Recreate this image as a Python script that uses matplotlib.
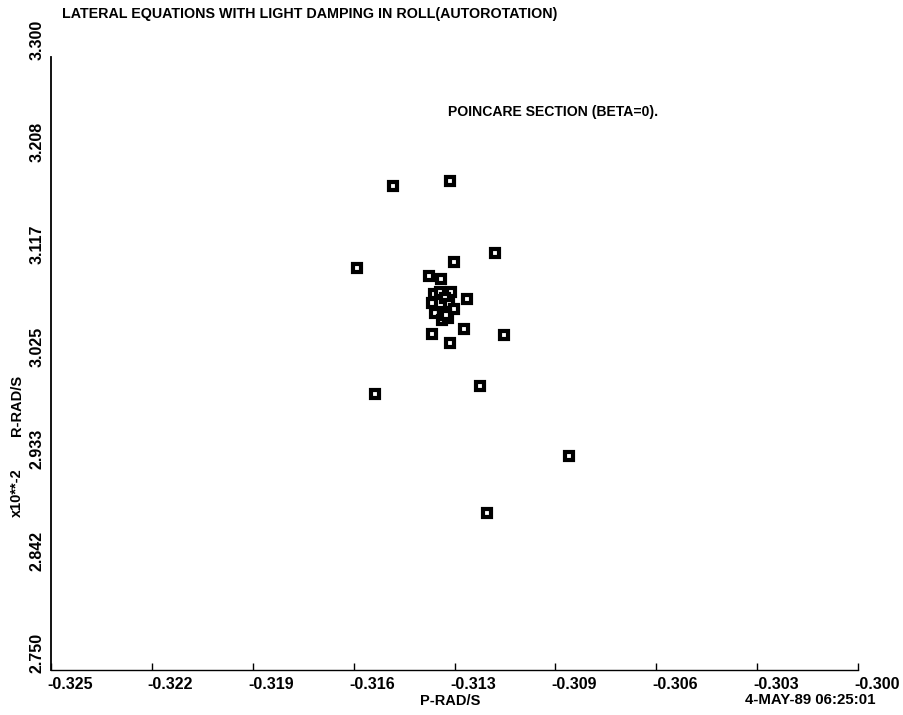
import matplotlib
matplotlib.use("Agg")
import matplotlib.pyplot as plt
from matplotlib.transforms import ScaledTranslation

# Poincare section points: roll rate P (rad/s) vs yaw rate R (x10**-2 rad/s)
p_vals = [-0.31441, -0.31264, -0.31552, -0.31125, -0.31252, -0.31329, -0.31292,
          -0.31314, -0.31295, -0.31261, -0.31279, -0.31211, -0.31320, -0.31267,
          -0.31252, -0.31310, -0.31286, -0.31289, -0.31270, -0.31276, -0.31320,
          -0.31221, -0.31097, -0.31264, -0.31496, -0.31171, -0.30895, -0.31149]
r_vals = [3.1843, 3.1887, 3.1107, 3.1241, 3.1161, 3.1035, 3.1008,
          3.0874, 3.0892, 3.0892, 3.0838, 3.0829, 3.0793, 3.0784,
          3.0739, 3.0703, 3.0712, 3.0640, 3.0658, 3.0685, 3.0515,
          3.0560, 3.0506, 3.0434, 2.9976, 3.0048, 2.9420, 2.8909]

x_ticks = [-0.325, -0.321875, -0.31875, -0.315625, -0.3125, -0.309375, -0.30625, -0.303125, -0.300]
x_tick_labels = ["-0.325", "-0.322", "-0.319", "-0.316", "-0.313", "-0.309", "-0.306", "-0.303", "-0.300"]
y_ticks = [2.75, 2.841667, 2.933333, 3.025, 3.116667, 3.208333, 3.30]
y_tick_labels = ["2.750", "2.842", "2.933", "3.025", "3.117", "3.208", "3.300"]

FONT = ["Liberation Sans", "DejaVu Sans"]
plt.rcParams["font.family"] = FONT
plt.rcParams["font.weight"] = "bold"

W, H = 904, 715
fig = plt.figure(figsize=(W / 100, H / 100), dpi=100)
ax = fig.add_axes([51 / W, (H - 670) / H, 807 / W, 613 / H])

ax.plot(p_vals, r_vals, linestyle="none", marker="s", markersize=6.0,
        markerfacecolor="white", markeredgecolor="black", markeredgewidth=3.0)

ax.set_xlim(-0.325, -0.300)
ax.set_ylim(2.75, 3.30)

for side in ("top", "right"):
    ax.spines[side].set_visible(False)
ax.spines["left"].set_linewidth(1.3)
ax.spines["bottom"].set_linewidth(1.0)

ax.set_xticks(x_ticks)
ax.set_xticklabels(x_tick_labels, fontsize=11.5, fontweight="bold", ha="left")
ax.set_yticks(y_ticks)
ax.set_yticklabels(y_tick_labels, fontsize=11.5, fontweight="bold",
                   rotation=90, va="center", ha="center")
ax.tick_params(axis="x", direction="in", length=5, width=1.0, pad=5)
ax.tick_params(axis="y", length=0, pad=10)

# nudge tick labels the way the plotter placed them
for lbl in ax.get_xticklabels():
    lbl.set_transform(lbl.get_transform() + ScaledTranslation(-4 / 100, 0, fig.dpi_scale_trans))
for lbl in ax.get_yticklabels():
    lbl.set_transform(lbl.get_transform() + ScaledTranslation(0, 17 / 100, fig.dpi_scale_trans))


def ftext(px, py, s, **kw):
    fig.text(px / W, 1 - py / H, s, fontweight="bold", **kw)


ftext(62, 14, "LATERAL EQUATIONS WITH LIGHT DAMPING IN ROLL(AUTOROTATION)",
      fontsize=10.3, ha="left", va="center")
ftext(448, 112, "POINCARE SECTION (BETA=0).", fontsize=10.1, ha="left", va="center")
ftext(450, 701, "P-RAD/S", fontsize=10.5, ha="center", va="center")
ftext(810, 700, "4-MAY-89 06:25:01", fontsize=10.8, ha="center", va="center")
ftext(17, 405, "R-RAD/S", fontsize=10.5, ha="center", va="center", rotation=90)
ftext(17, 493, "x10**-2", fontsize=10.5, ha="center", va="center", rotation=90)

fig.savefig("out.png", dpi=100, facecolor="white")
